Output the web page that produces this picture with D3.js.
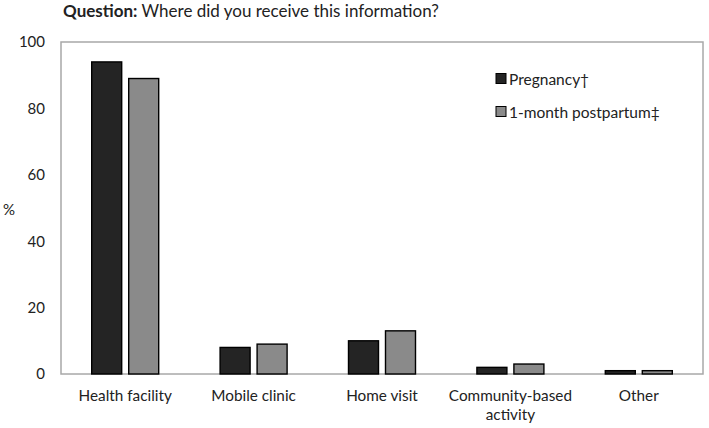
<!DOCTYPE html>
<html>
<head>
<meta charset="utf-8">
<script src="https://cdn.jsdelivr.net/npm/d3@7"></script>
<style>
  body { margin: 0; background: #fff; }
  text { font-family: Lato, "Open Sans", sans-serif; fill: #222; }
</style>
</head>
<body>
<div id="chart"></div>
<script>
const categories = ["Health facility", "Mobile clinic", "Home visit", "Community-based activity", "Other"]
const seriesNames = ["Pregnancy\u2020", "1-month postpartum\u2021"]
const pregnancy = [94, 8, 10, 2, 1]
const postpartum = [89, 9, 13, 3, 1]
const yTicks = [0, 20, 40, 60, 80, 100]
const colors = ["#242424", "#8a8a8a"]

const W = 709, H = 428
const m = {left: 61, right: 6, top: 42, bottom: 54}

const svg = d3.select("#chart").append("svg").attr("width", W).attr("height", H)

const x = d3.scaleBand().domain(categories).range([m.left, W - m.right])
const y = d3.scaleLinear().domain([0, 100]).range([H - m.bottom, m.top])

// frame
svg.append("rect")
    .attr("x", m.left).attr("y", m.top)
    .attr("width", W - m.right - m.left).attr("height", H - m.bottom - m.top)
    .attr("fill", "none").attr("stroke", "#a8a8a8").attr("stroke-width", 1.5)

// title
const title = svg.append("text").attr("x", 63).attr("y", 17).style("font-size", "17px")
title.append("tspan").attr("font-weight", "bold").text("Question:")
title.append("tspan").text(" Where did you receive this information?")

// y axis labels
const yAxis = svg.append("g").attr("transform", `translate(${m.left},0)`)
    .call(d3.axisLeft(y).tickValues(yTicks).tickSize(0).tickPadding(16))
yAxis.select(".domain").remove()
yAxis.selectAll("text").style("font-size", "15px").attr("fill", "#222")

svg.append("text").attr("x", 3).attr("y", 215).style("font-size", "15px").text("%")

// bars
const barW = 30, gap = 7
const series = [pregnancy, postpartum]
series.forEach((vals, si) => {
    svg.append("g").selectAll("rect")
        .data(vals)
        .join("rect")
        .attr("x", (d, i) => x(categories[i]) + x.bandwidth() / 2 - barW - gap / 2 + si * (barW + gap))
        .attr("y", d => y(d))
        .attr("width", barW)
        .attr("height", d => y(0) - y(d))
        .attr("fill", colors[si])
        .attr("stroke", "#000")
        .attr("stroke-width", 1.4)
})

// category labels
const xl = svg.append("g")
categories.forEach(c => {
    const cx = x(c) + x.bandwidth() / 2
    const t = xl.append("text")
        .attr("x", cx)
        .attr("y", 401)
        .attr("text-anchor", "middle")
        .style("font-size", "15.3px")
    if (c === "Community-based activity") {
        t.append("tspan").attr("x", cx).text("Community-based")
        t.append("tspan").attr("x", cx).attr("dy", 19).text("activity")
    } else {
        t.text(c)
    }
})

// legend
const lg = svg.append("g")
seriesNames.forEach((n, i) => {
    const yy = 79 + i * 33
    lg.append("rect").attr("x", 496).attr("y", yy - 5.5).attr("width", 10).attr("height", 10)
        .attr("fill", colors[i]).attr("stroke", "#000").attr("stroke-width", 1)
    lg.append("text").attr("x", 509).attr("y", yy + 5.5).style("font-size", "15.5px").text(n)
})
</script>
</body>
</html>
